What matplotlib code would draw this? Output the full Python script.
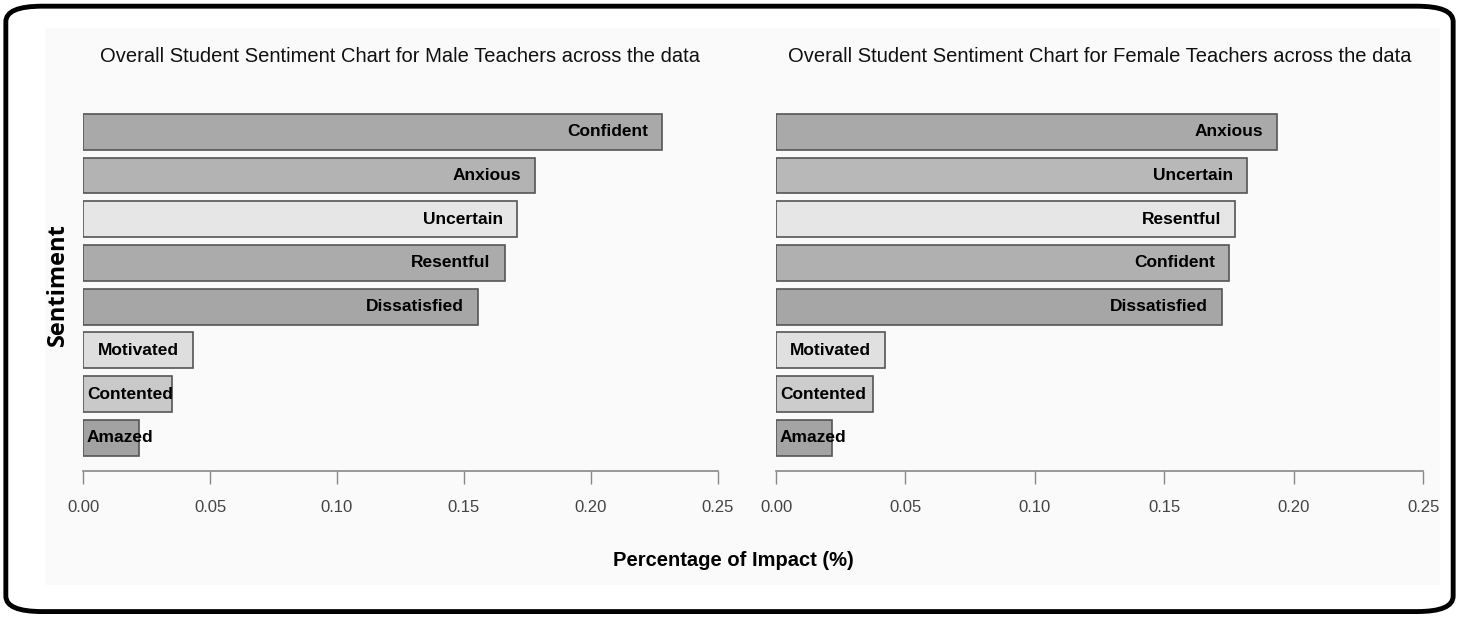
import matplotlib
matplotlib.use("Agg")
import matplotlib.pyplot as plt
from matplotlib.patches import FancyBboxPatch

# data, top to bottom as drawn
male_labels = ["Confident", "Anxious", "Uncertain", "Resentful", "Dissatisfied",
               "Motivated", "Contented", "Amazed"]
male_values = [0.228, 0.178, 0.171, 0.166, 0.1555, 0.0433, 0.035, 0.022]
male_colors = ["#a9a9a9", "#b3b3b3", "#e6e6e6", "#ababab", "#a6a6a6",
               "#dedede", "#c9c9c9", "#a2a2a2"]

female_labels = ["Anxious", "Uncertain", "Resentful", "Confident", "Dissatisfied",
                 "Motivated", "Contented", "Amazed"]
female_values = [0.1936, 0.182, 0.1774, 0.175, 0.1723, 0.0421, 0.0375, 0.0216]
female_colors = ["#a9a9a9", "#b8b8b8", "#e6e6e6", "#b0b0b0", "#a6a6a6",
                 "#e0e0e0", "#cccccc", "#a4a4a4"]

xticks = [0.00, 0.05, 0.10, 0.15, 0.20, 0.25]

narrow = ["Liberation Sans", "DejaVu Sans"]

fig = plt.figure(figsize=(14.59, 6.19), dpi=100)

# rounded frame and faint panel background
fig.patches.append(FancyBboxPatch((0.031, 0.055), 0.956, 0.9, boxstyle="square,pad=0",
                                  transform=fig.transFigure, facecolor="#fafafa",
                                  edgecolor="none", zorder=-2))
fig.patches.append(FancyBboxPatch((0.004, 0.012), 0.992, 0.978,
                                  boxstyle="round,pad=0,rounding_size=0.025",
                                  transform=fig.transFigure, facecolor="none",
                                  edgecolor="black", linewidth=3.5, zorder=-1))


def draw(ax, labels, values, colors, title):
    n = len(values)
    ys = list(range(n - 1, -1, -1))
    ax.barh(ys, values, height=0.82, color=colors, edgecolor="#555555", linewidth=1.2)
    for y, v, lab in zip(ys, values, labels):
        if v > 0.04:
            ax.text(v - 0.0055, y, lab, ha="right", va="center", fontsize=12.5,
                    fontweight="bold", family=narrow, color="black")
        else:
            ax.text(0.0015, y, lab, ha="left", va="center", fontsize=12.5,
                    fontweight="bold", family=narrow, color="black")
    ax.set_xlim(0, 0.25)
    ax.set_ylim(-0.76, 7.45)
    ax.set_xticks(xticks)
    ax.set_xticklabels([f"{t:.2f}" for t in xticks], family=narrow, fontsize=12,
                       color="#444444")
    ax.tick_params(axis="x", length=9, width=1, color="#888888", pad=12)
    ax.set_yticks([])
    for s in ["top", "right", "left"]:
        ax.spines[s].set_visible(False)
    ax.spines["bottom"].set_color("#888888")
    ax.spines["bottom"].set_linewidth(1.2)
    ax.set_facecolor("none")
    ax.set_title(title, family=narrow, fontsize=14.5, pad=36, color="#111111")


ax1 = fig.add_axes([0.0569, 0.239, 0.4352, 0.580])
ax2 = fig.add_axes([0.5319, 0.239, 0.4435, 0.580])

draw(ax1, male_labels, male_values, male_colors,
     "Overall Student Sentiment Chart for Male Teachers across the data")
draw(ax2, female_labels, female_values, female_colors,
     "Overall Student Sentiment Chart for Female Teachers across the data")

fig.text(0.5024, 0.095, "Percentage of Impact (%)", ha="center", va="center",
         family=narrow, fontsize=14.5, fontweight="bold")
fig.text(0.040, 0.54, "Sentiment", ha="center", va="center", rotation=90,
         fontsize=17, fontweight="bold", family=["Open Sans", "DejaVu Sans"])

fig.savefig("out.png", dpi=100)
